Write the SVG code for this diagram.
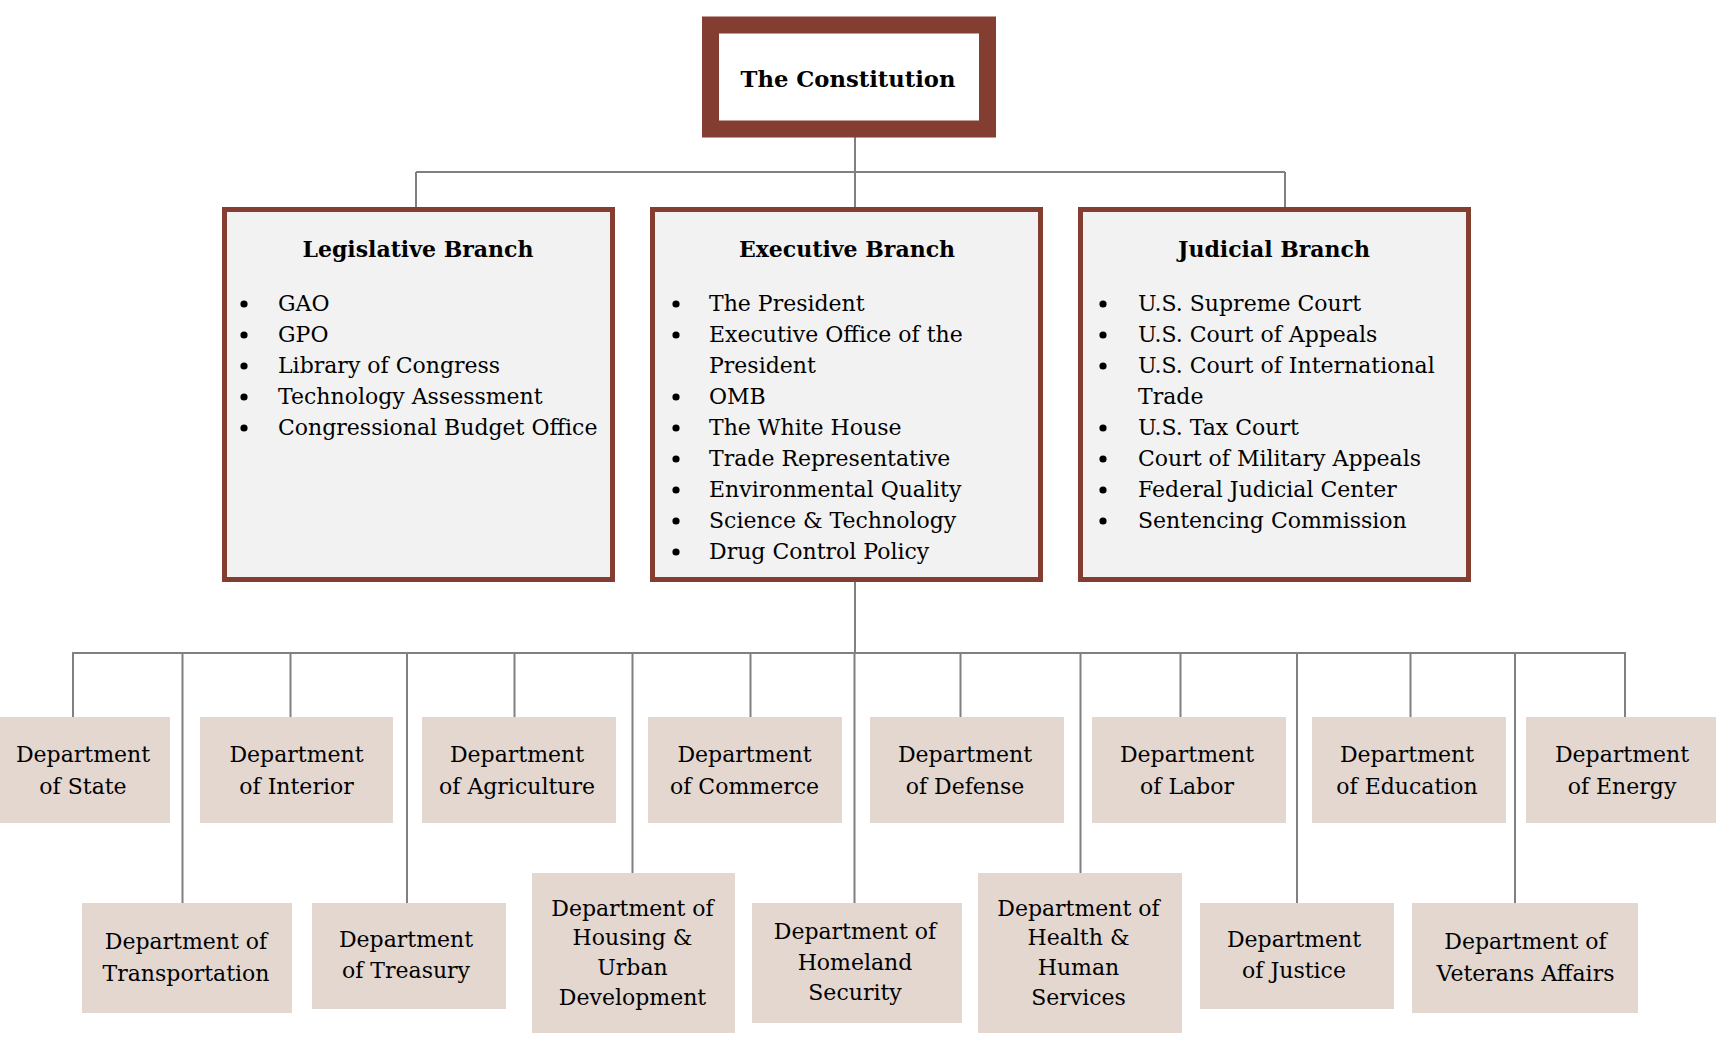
<svg xmlns="http://www.w3.org/2000/svg" width="1716" height="1054" viewBox="0 0 1716 1054">
<style>
.bg{fill:#ffffff}
.cons{fill:#ffffff;stroke:#843d31;stroke-width:17}
.branch{fill:#f2f2f2;stroke:#843d31;stroke-width:5}
.dept{fill:#e3d7d0}
.conn{stroke:#808080;stroke-width:2;fill:none}
.title{font-family:"DejaVu Serif","Liberation Serif",serif;font-weight:bold;font-size:22px;fill:#000;text-anchor:middle}
.item{font-family:"DejaVu Serif","Liberation Serif",serif;font-size:22px;fill:#000}
.dt{font-family:"DejaVu Serif","Liberation Serif",serif;font-size:22px;fill:#000;text-anchor:middle}
.b{fill:#000}
</style>
<rect class="bg" x="0" y="0" width="1716" height="1054"/>
<g id="connectors">
<path class="conn" d="M855 137V172M416 172H1285M416 172V207M855 172V207M1285 172V207"/>
<path class="conn" d="M855 582V653M72 653H1626"/>
<path class="conn" d="M73 653V717M290.5 653V717M514.5 653V717M750.5 653V717M960.5 653V717M1180.5 653V717M1410.5 653V717M1625 653V717"/>
<path class="conn" d="M182.5 653V903M407 653V903M632.5 653V873M854.5 653V903M1080.5 653V873M1297 653V903M1515 653V903"/>
</g>
<g id="constitution">
<rect class="cons" x="710.5" y="25" width="277" height="104"/>
<text class="title" x="848" y="87" style="font-size:22.7px">The Constitution</text>
</g>
<g id="legislative">
<rect class="branch" x="224.5" y="209.5" width="388" height="370"/>
<text class="title" x="418" y="257">Legislative Branch</text>
<circle class="b" cx="244" cy="304" r="3.6"/><text class="item" x="278" y="310.5">GAO</text>
<circle class="b" cx="244" cy="335" r="3.6"/><text class="item" x="278" y="341.5">GPO</text>
<circle class="b" cx="244" cy="366" r="3.6"/><text class="item" x="278" y="372.5">Library of Congress</text>
<circle class="b" cx="244" cy="397" r="3.6"/><text class="item" x="278" y="403.5">Technology Assessment</text>
<circle class="b" cx="244" cy="428" r="3.6"/><text class="item" x="278" y="434.5">Congressional Budget Office</text>
</g>
<g id="executive">
<rect class="branch" x="652.5" y="209.5" width="388" height="370"/>
<text class="title" x="847" y="257">Executive Branch</text>
<circle class="b" cx="676" cy="304" r="3.6"/><text class="item" x="709" y="310.5">The President</text>
<circle class="b" cx="676" cy="335" r="3.6"/><text class="item" x="709" y="341.5">Executive Office of the</text>
<text class="item" x="709" y="372.5">President</text>
<circle class="b" cx="676" cy="397" r="3.6"/><text class="item" x="709" y="403.5">OMB</text>
<circle class="b" cx="676" cy="428" r="3.6"/><text class="item" x="709" y="434.5">The White House</text>
<circle class="b" cx="676" cy="459" r="3.6"/><text class="item" x="709" y="465.5">Trade Representative</text>
<circle class="b" cx="676" cy="490" r="3.6"/><text class="item" x="709" y="496.5">Environmental Quality</text>
<circle class="b" cx="676" cy="521" r="3.6"/><text class="item" x="709" y="527.5">Science &amp; Technology</text>
<circle class="b" cx="676" cy="552" r="3.6"/><text class="item" x="709" y="558.5">Drug Control Policy</text>
</g>
<g id="judicial">
<rect class="branch" x="1080.5" y="209.5" width="388" height="370"/>
<text class="title" x="1274" y="257">Judicial Branch</text>
<circle class="b" cx="1103" cy="304" r="3.6"/><text class="item" x="1138" y="310.5">U.S. Supreme Court</text>
<circle class="b" cx="1103" cy="335" r="3.6"/><text class="item" x="1138" y="341.5">U.S. Court of Appeals</text>
<circle class="b" cx="1103" cy="366" r="3.6"/><text class="item" x="1138" y="372.5">U.S. Court of International</text>
<text class="item" x="1138" y="403.5">Trade</text>
<circle class="b" cx="1103" cy="428" r="3.6"/><text class="item" x="1138" y="434.5">U.S. Tax Court</text>
<circle class="b" cx="1103" cy="459" r="3.6"/><text class="item" x="1138" y="465.5">Court of Military Appeals</text>
<circle class="b" cx="1103" cy="490" r="3.6"/><text class="item" x="1138" y="496.5">Federal Judicial Center</text>
<circle class="b" cx="1103" cy="521" r="3.6"/><text class="item" x="1138" y="527.5">Sentencing Commission</text>
</g>
<g id="dept-state"><rect class="dept" x="0" y="717" width="170" height="106"/><text class="dt" x="83" y="762">Department</text><text class="dt" x="83" y="793.5">of State</text></g>
<g id="dept-interior"><rect class="dept" x="200" y="717" width="193" height="106"/><text class="dt" x="296.5" y="762">Department</text><text class="dt" x="296.5" y="793.5">of Interior</text></g>
<g id="dept-agriculture"><rect class="dept" x="422" y="717" width="194" height="106"/><text class="dt" x="517" y="762">Department</text><text class="dt" x="517" y="793.5">of Agriculture</text></g>
<g id="dept-commerce"><rect class="dept" x="648" y="717" width="194" height="106"/><text class="dt" x="744.5" y="762">Department</text><text class="dt" x="744.5" y="793.5">of Commerce</text></g>
<g id="dept-defense"><rect class="dept" x="870" y="717" width="194" height="106"/><text class="dt" x="965" y="762">Department</text><text class="dt" x="965" y="793.5">of Defense</text></g>
<g id="dept-labor"><rect class="dept" x="1092" y="717" width="194" height="106"/><text class="dt" x="1187" y="762">Department</text><text class="dt" x="1187" y="793.5">of Labor</text></g>
<g id="dept-education"><rect class="dept" x="1312" y="717" width="194" height="106"/><text class="dt" x="1407" y="762">Department</text><text class="dt" x="1407" y="793.5">of Education</text></g>
<g id="dept-energy"><rect class="dept" x="1526" y="717" width="190" height="106"/><text class="dt" x="1622" y="762">Department</text><text class="dt" x="1622" y="793.5">of Energy</text></g>
<g id="dept-transportation"><rect class="dept" x="82" y="903" width="210" height="110"/><text class="dt" x="186" y="949">Department of</text><text class="dt" x="186" y="980.5">Transportation</text></g>
<g id="dept-treasury"><rect class="dept" x="312" y="903" width="194" height="106"/><text class="dt" x="406" y="947">Department</text><text class="dt" x="406" y="978">of Treasury</text></g>
<g id="dept-hud"><rect class="dept" x="532" y="873" width="203" height="160"/><text class="dt" x="632.5" y="915.5">Department of</text><text class="dt" x="632.5" y="945">Housing &amp;</text><text class="dt" x="632.5" y="974.5">Urban</text><text class="dt" x="632.5" y="1005">Development</text></g>
<g id="dept-homeland"><rect class="dept" x="752" y="903" width="210" height="120"/><text class="dt" x="855" y="938.5">Department of</text><text class="dt" x="855" y="970">Homeland</text><text class="dt" x="855" y="1000">Security</text></g>
<g id="dept-hhs"><rect class="dept" x="978" y="873" width="204" height="160"/><text class="dt" x="1078.5" y="915.5">Department of</text><text class="dt" x="1078.5" y="945">Health &amp;</text><text class="dt" x="1078.5" y="974.5">Human</text><text class="dt" x="1078.5" y="1005">Services</text></g>
<g id="dept-justice"><rect class="dept" x="1200" y="903" width="194" height="106"/><text class="dt" x="1294" y="947">Department</text><text class="dt" x="1294" y="978">of Justice</text></g>
<g id="dept-veterans"><rect class="dept" x="1412" y="903" width="226" height="110"/><text class="dt" x="1525.5" y="949">Department of</text><text class="dt" x="1525.5" y="980.5">Veterans Affairs</text></g>
</svg>
